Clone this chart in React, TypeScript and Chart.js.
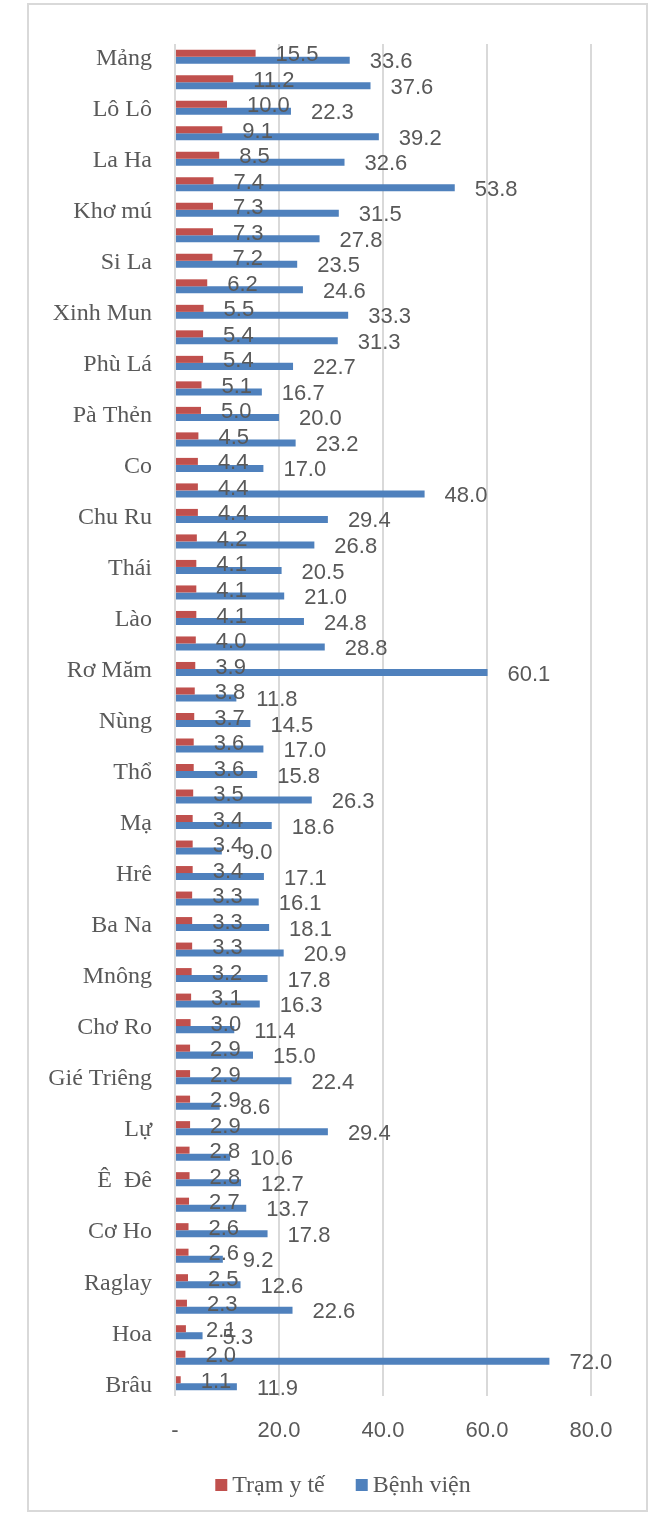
import React, { useEffect, useRef } from "react";
import { Chart, registerables } from "chart.js";

Chart.register(...registerables);

const categories: string[] = [
  "Mảng", "", "Lô Lô", "", "La Ha", "", "Khơ mú", "", "Si La", "",
  "Xinh Mun", "", "Phù Lá", "", "Pà Thẻn", "", "Co", "", "Chu Ru", "",
  "Thái", "", "Lào", "", "Rơ Măm", "", "Nùng", "", "Thổ", "",
  "Mạ", "", "Hrê", "", "Ba Na", "", "Mnông", "", "Chơ Ro", "",
  "Gié Triêng", "", "Lự", "", "Ê  Đê", "", "Cơ Ho", "", "Raglay", "",
  "Hoa", "", "Brâu",
];

const tramYTe: number[] = [
  15.5, 11.2, 10.0, 9.1, 8.5, 7.4, 7.3, 7.3, 7.2, 6.2,
  5.5, 5.4, 5.4, 5.1, 5.0, 4.5, 4.4, 4.4, 4.4, 4.2,
  4.1, 4.1, 4.1, 4.0, 3.9, 3.8, 3.7, 3.6, 3.6, 3.5,
  3.4, 3.4, 3.4, 3.3, 3.3, 3.3, 3.2, 3.1, 3.0, 2.9,
  2.9, 2.9, 2.9, 2.8, 2.8, 2.7, 2.6, 2.6, 2.5, 2.3,
  2.1, 2.0, 1.1,
];

const benhVien: number[] = [
  33.6, 37.6, 22.3, 39.2, 32.6, 53.8, 31.5, 27.8, 23.5, 24.6,
  33.3, 31.3, 22.7, 16.7, 20.0, 23.2, 17.0, 48.0, 29.4, 26.8,
  20.5, 21.0, 24.8, 28.8, 60.1, 11.8, 14.5, 17.0, 15.8, 26.3,
  18.6, 9.0, 17.1, 16.1, 18.1, 20.9, 17.8, 16.3, 11.4, 15.0,
  22.4, 8.6, 29.4, 10.6, 12.7, 13.7, 17.8, 9.2, 12.6, 22.6,
  5.3, 72.0, 11.9,
];

const seriesNames: string[] = ["Trạm y tế", "Bệnh viện"];
const seriesColors: string[] = ["#C0504D", "#4F81BD"];
const xTicks: number[] = [0, 20, 40, 60, 80];

const SANS = "'Liberation Sans', Arial, sans-serif";
const SERIF = "'Liberation Serif', 'Times New Roman', serif";

const dataLabelPlugin = {
  id: "dataLabels",
  afterDatasetsDraw(chart: any) {
    const ctx = chart.ctx;
    ctx.save();
    ctx.font = `22px ${SANS}`;
    ctx.fillStyle = "#595959";
    ctx.textAlign = "left";
    ctx.textBaseline = "middle";
    chart.data.datasets.forEach((ds: any, di: number) => {
      const meta = chart.getDatasetMeta(di);
      meta.data.forEach((el: any, i: number) => {
        const v = ds.data[i] as number;
        ctx.fillText(v.toFixed(1), el.x + 20, el.y + 2);
      });
    });
    ctx.restore();
  },
};

const legendPlugin = {
  id: "customLegend",
  afterDraw(chart: any) {
    const ctx = chart.ctx;
    ctx.save();
    ctx.font = `24px ${SERIF}`;
    ctx.textBaseline = "middle";
    ctx.textAlign = "left";
    const box = 12;
    const gapBoxText = 5;
    const gapItems = 31;
    const ds = chart.data.datasets;
    const widths = ds.map((d: any) => ctx.measureText(d.label).width);
    let total = 0;
    widths.forEach((w: number, i: number) => {
      total += box + gapBoxText + w + (i < widths.length - 1 ? gapItems : 0);
    });
    const cy = 1485;
    let x = 343 - total / 2;
    ds.forEach((d: any, i: number) => {
      ctx.fillStyle = d.backgroundColor;
      ctx.fillRect(x, cy - box / 2, box, box);
      x += box + gapBoxText;
      ctx.fillStyle = "#595959";
      ctx.fillText(d.label, x, cy + 1);
      x += widths[i] + gapItems;
    });
    ctx.restore();
  },
};

export default function App() {
  const canvasRef = useRef<HTMLCanvasElement | null>(null);

  useEffect(() => {
    if (!canvasRef.current) return;
    const chart = new Chart(canvasRef.current, {
      type: "bar",
      data: {
        labels: categories,
        datasets: [
          {
            label: seriesNames[0],
            data: tramYTe,
            backgroundColor: seriesColors[0],
            categoryPercentage: 0.55,
            barPercentage: 1.0,
          },
          {
            label: seriesNames[1],
            data: benhVien,
            backgroundColor: seriesColors[1],
            categoryPercentage: 0.55,
            barPercentage: 1.0,
          },
        ],
      },
      options: {
        indexAxis: "y",
        animation: false,
        responsive: false,
        maintainAspectRatio: false,
        layout: { padding: { top: 44, right: 67, left: 0, bottom: 0 } },
        plugins: {
          legend: { display: false },
          tooltip: { enabled: false },
        },
        scales: {
          y: {
            type: "category",
            grid: { display: false, drawTicks: false },
            border: { display: false },
            ticks: {
              autoSkip: false,
              padding: 23,
              labelOffset: 2,
              color: "#595959",
              font: { family: SERIF, size: 24 },
            },
            afterFit(scale: any) {
              scale.width = 175;
            },
          },
          x: {
            type: "linear",
            min: 0,
            max: 80,
            afterBuildTicks(scale: any) {
              scale.ticks = xTicks.map((v) => ({ value: v }));
            },
            grid: { color: "#D9D9D9", lineWidth: 2, drawTicks: false },
            border: { display: false },
            ticks: {
              padding: 22,
              color: "#595959",
              font: { family: SANS, size: 22 },
              callback: (v: any) => (Number(v) === 0 ? "-" : Number(v).toFixed(1)),
            },
            afterFit(scale: any) {
              scale.height = 120;
            },
          },
        },
      },
      plugins: [dataLabelPlugin, legendPlugin],
    });
    return () => chart.destroy();
  }, []);

  return (
    <div style={{ position: "absolute", left: 0, top: 0, width: 658, height: 1516, background: "#fff" }}>
      <div
        style={{
          position: "absolute",
          left: 27,
          top: 3,
          width: 621,
          height: 1509,
          border: "2px solid #D9D9D9",
          boxSizing: "border-box",
        }}
      />
      <canvas
        ref={canvasRef}
        width={658}
        height={1516}
        style={{ position: "absolute", left: 0, top: 0, width: 658, height: 1516 }}
      />
    </div>
  );
}
